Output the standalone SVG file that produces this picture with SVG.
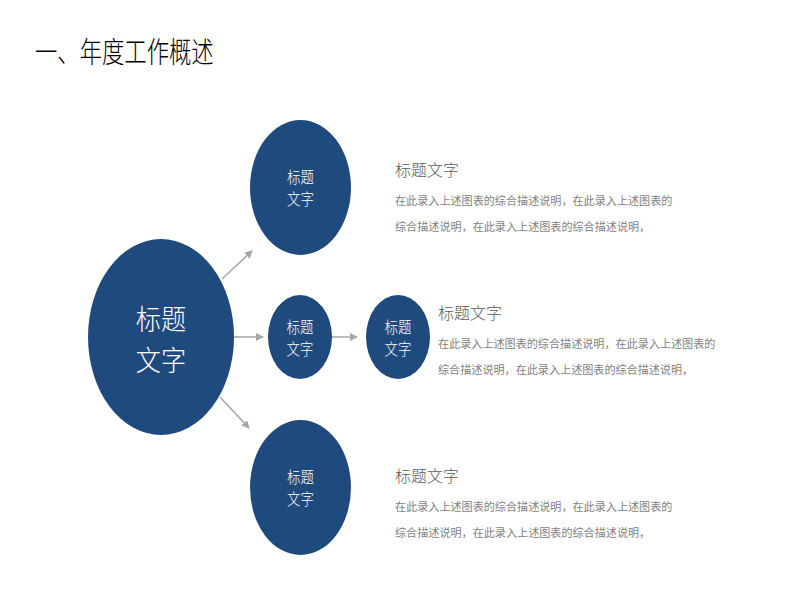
<svg xmlns="http://www.w3.org/2000/svg" width="800" height="600" viewBox="0 0 800 600">
<style>
.node{fill:#1F4A7E}
.lbl{fill:#FFFFFF;font-family:"Noto Sans CJK SC","Liberation Sans",sans-serif;text-anchor:middle;font-weight:300}
.conn{stroke:#A6A6A6;stroke-width:1.5;fill:none;marker-end:url(#arr)}
.ttl{fill:#595959;font-family:"Noto Sans CJK SC","Liberation Sans",sans-serif;font-size:16px;font-weight:300}
.desc{fill:#7F7F7F;font-family:"Noto Sans CJK SC","Liberation Sans",sans-serif;font-size:11.1px;font-weight:400}
.big{font-size:28px}
.sm{font-size:16px}
</style>
<defs>
<marker id="arr" markerWidth="8" markerHeight="8" refX="7" refY="4" orient="auto" markerUnits="userSpaceOnUse">
<path d="M0,0 L8,4 L0,8 Z" fill="#A6A6A6"/>
</marker>
</defs>
<rect width="800" height="600" fill="#FFFFFF"/>
<g id="heading" transform="translate(35,0) scale(0.77,1)">
<text x="0" y="63" font-family="Noto Sans CJK SC,Liberation Sans,sans-serif" font-size="29" font-weight="300" fill="#000000">一、年度工作概述</text>
</g>
<g id="connectors">
<line class="conn" x1="222" y1="279" x2="252" y2="251"/>
<line class="conn" x1="234" y1="337" x2="263" y2="337"/>
<line class="conn" x1="332" y1="337" x2="357" y2="337"/>
<line class="conn" x1="220" y1="397" x2="249" y2="428"/>
</g>
<g id="main">
<ellipse class="node" cx="161" cy="337" rx="73" ry="98"/>
<g transform="translate(161,0) scale(0.9,1)">
<text class="lbl big" x="0" y="330">标题</text>
<text class="lbl big" x="0" y="371">文字</text>
</g>
</g>
<g id="top">
<ellipse class="node" cx="300.5" cy="187.5" rx="50.5" ry="67.5"/>
<g transform="translate(300.5,0) scale(0.84,1)">
<text class="lbl sm" x="0" y="183">标题</text>
<text class="lbl sm" x="0" y="205">文字</text>
</g>
</g>
<g id="mid1">
<ellipse class="node" cx="300" cy="337" rx="32" ry="42"/>
<g transform="translate(300,0) scale(0.84,1)">
<text class="lbl sm" x="0" y="333">标题</text>
<text class="lbl sm" x="0" y="355">文字</text>
</g>
</g>
<g id="mid2">
<ellipse class="node" cx="398" cy="337" rx="32" ry="42"/>
<g transform="translate(398,0) scale(0.84,1)">
<text class="lbl sm" x="0" y="333">标题</text>
<text class="lbl sm" x="0" y="355">文字</text>
</g>
</g>
<g id="bottom">
<ellipse class="node" cx="300.5" cy="487.5" rx="50.5" ry="67.5"/>
<g transform="translate(300.5,0) scale(0.84,1)">
<text class="lbl sm" x="0" y="483">标题</text>
<text class="lbl sm" x="0" y="505">文字</text>
</g>
</g>
<g id="text-top">
<text class="ttl" x="395" y="176">标题文字</text>
<text class="desc" x="395" y="205">在此录入上述图表的综合描述说明，在此录入上述图表的</text>
<text class="desc" x="395" y="231">综合描述说明，在此录入上述图表的综合描述说明，</text>
</g>
<g id="text-mid">
<text class="ttl" x="438" y="319">标题文字</text>
<text class="desc" x="438" y="348">在此录入上述图表的综合描述说明，在此录入上述图表的</text>
<text class="desc" x="438" y="374">综合描述说明，在此录入上述图表的综合描述说明，</text>
</g>
<g id="text-bottom">
<text class="ttl" x="395" y="482">标题文字</text>
<text class="desc" x="395" y="511">在此录入上述图表的综合描述说明，在此录入上述图表的</text>
<text class="desc" x="395" y="537">综合描述说明，在此录入上述图表的综合描述说明，</text>
</g>
</svg>
